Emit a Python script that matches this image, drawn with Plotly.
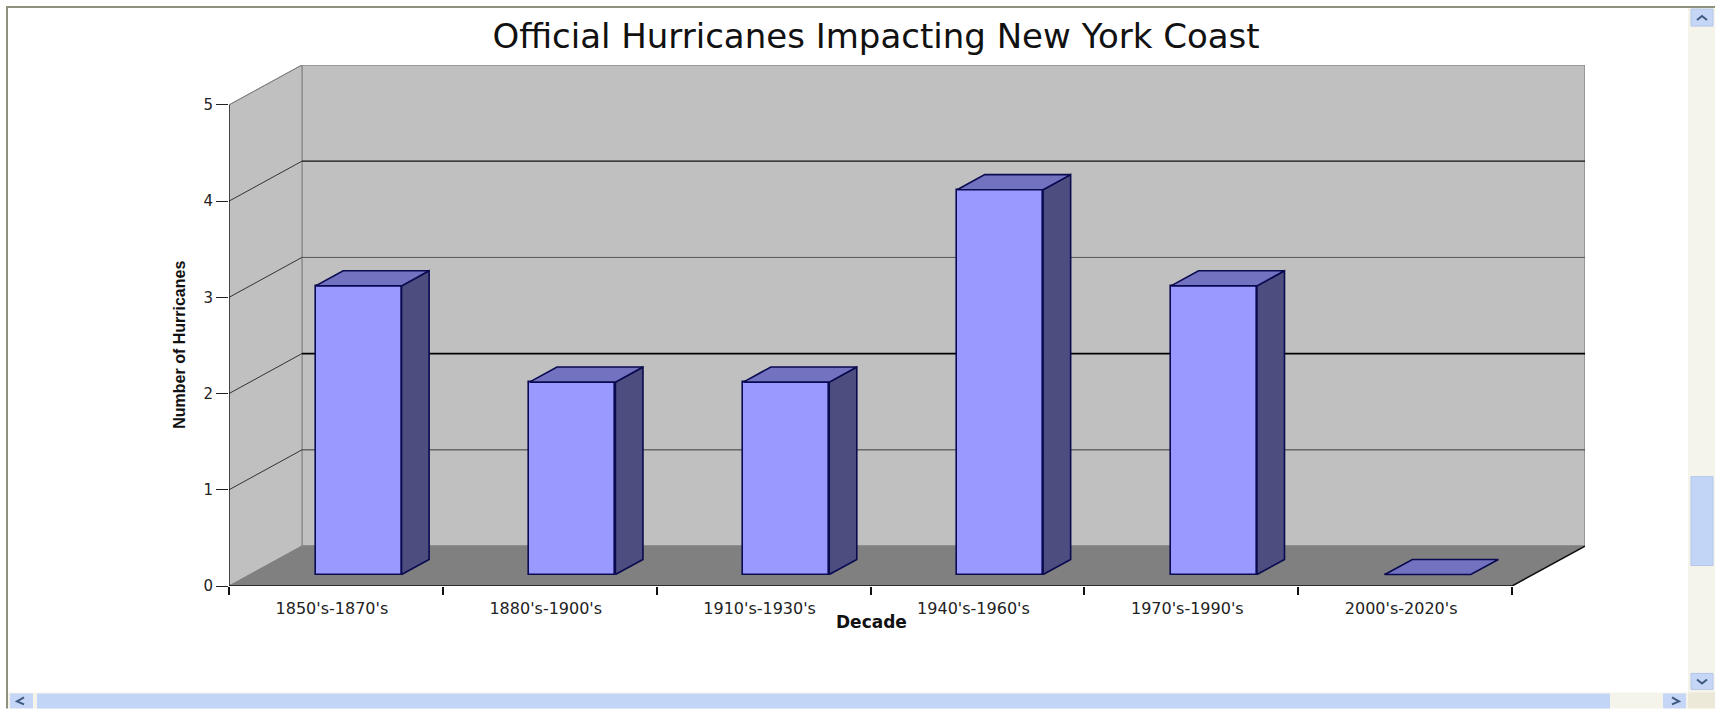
import plotly.graph_objects as go

# ---- data ----
decades = ["1850's-1870's", "1880's-1900's", "1910's-1930's", "1940's-1960's", "1970's-1990's", "2000's-2020's"]
hurricanes = [3, 2, 2, 4, 3, 0]
value_ticks = [0, 1, 2, 3, 4, 5]
title_text = "Official Hurricanes Impacting New York Coast"
x_title = "Decade"
y_title = "Number of Hurricanes"

# ---- oblique projection, in axis units ----
DEPTH_X = 0.341      # category units for the full chart depth
DEPTH_Y = 0.415      # value units for the full chart depth
BAR_WIDTH = 0.402
BAR_SHIFT = 0.008    # bars sit very slightly right of the category centre
BAR_NEAR = 0.287     # bar front, as a share of chart depth
BAR_FAR = 0.665      # bar back
N = len(decades)
VMAX = max(value_ticks)

def proj(cat, val, depth):
    return cat + depth * DEPTH_X, val + depth * DEPTH_Y

# ---- page geometry in pixels ----
W, H = 1715, 709
L, R, T, B = 229, 1585, 65, 586.5

def px(x):
    return (x - L) / (R - L)

def py(y):
    return (B - y) / (B - T)

FONT = "DejaVu Sans"
WALL, FLOOR = "#c0c0c0", "#808080"
FRONT, TOP, SIDE, EDGE = "#9999ff", "#7272c0", "#4d4d80", "#0a0a50"

fig = go.Figure()

def poly(points, fill, line=None, width=1):
    xs, ys = zip(*[proj(*p) for p in points])
    fig.add_trace(go.Scatter(
        x=list(xs), y=list(ys), mode="lines", fill="toself" if fill else None,
        fillcolor=fill, line=dict(color=line or "rgba(0,0,0,0)", width=width),
        hoverinfo="skip", showlegend=False, cliponaxis=False))

shapes = []
def wall(points, fill, line, width=1, layer="below"):
    coords = [proj(*p) for p in points]
    path = "M" + " L".join(f"{x},{y}" for x, y in coords) + (" Z" if fill else "")
    s = dict(type="path", path=path, xref="x", yref="y", layer=layer,
             line=dict(color=line, width=width))
    if fill:
        s["fillcolor"] = fill
    shapes.append(s)

# walls and floor
wall([(0, 0, 1), (N, 0, 1), (N, VMAX, 1), (0, VMAX, 1)], WALL, "#8a8a8a", 1.5)
wall([(0, 0, 0), (0, 0, 1), (0, VMAX, 1), (0, VMAX, 0)], WALL, "#8a8a8a", 1)
wall([(0, 0, 0), (N, 0, 0), (N, 0, 1), (0, 0, 1)], FLOOR, FLOOR, 1)
# gridlines
grid_style = {1: ("#3a3a3a", 1), 2: ("#000000", 1.6), 3: ("#555555", 1), 4: ("#111111", 1.2)}
for v in value_ticks[1:-1]:
    col, w = grid_style[v]
    wall([(0, v, 1), (N, v, 1)], None, col, w)
    wall([(0, v, 0), (0, v, 1)], None, "#333333", 1)
wall([(0, VMAX, 0), (0, VMAX, 1)], None, "#808080", 1)
wall([(N, 0, 0), (N, 0, 1)], None, "#111111", 1.5)

# bars: front faces on the axes, with side and top faces projected from the same values
bar_x = [proj(i + 0.5 + BAR_SHIFT, 0, BAR_NEAR)[0] for i in range(N)]
bar_base = proj(0, 0, BAR_NEAR)[1]
fig.add_trace(go.Bar(
    x=bar_x, y=hurricanes, base=bar_base, width=BAR_WIDTH,
    marker=dict(color=FRONT, line=dict(color=EDGE, width=1.6)),
    hoverinfo="skip", showlegend=False))

for i, v in enumerate(hurricanes):
    c0, c1 = i + 0.5 + BAR_SHIFT - BAR_WIDTH / 2, i + 0.5 + BAR_SHIFT + BAR_WIDTH / 2
    if v > 0:
        poly([(c1, 0, BAR_NEAR), (c1, 0, BAR_FAR), (c1, v, BAR_FAR), (c1, v, BAR_NEAR), (c1, 0, BAR_NEAR)],
             SIDE, EDGE, 1.6)
    poly([(c0, v, BAR_NEAR), (c1, v, BAR_NEAR), (c1, v, BAR_FAR), (c0, v, BAR_FAR), (c0, v, BAR_NEAR)],
         TOP, EDGE, 1.6)

# front axis lines
fig.add_trace(go.Scatter(x=[0, 0, N], y=[VMAX, 0, 0], mode="lines",
                         line=dict(color="#111111", width=1.3),
                         hoverinfo="skip", showlegend=False, cliponaxis=False))

# browser window furniture (frame and scrollbars)
def rect(x0, y0, x1, y1, fill, line=None):
    shapes.append(dict(type="rect", xref="paper", yref="paper",
                       x0=px(x0), x1=px(x1), y0=py(y0), y1=py(y1), layer="above",
                       fillcolor=fill, line=dict(color=line or fill, width=1 if line else 0)))

def chevron(pts):
    path = "M" + " L".join(f"{px(x)},{py(y)}" for x, y in pts)
    shapes.append(dict(type="path", path=path, xref="paper", yref="paper", layer="above",
                       line=dict(color="#3f5a80", width=2)))

rect(6, 6, 1715, 8, "#8f917f")
rect(6, 6, 8, 709, "#8f917f")
rect(1688, 8, 1715, 693, "#f5f4ea")
rect(8, 693, 1715, 709, "#f5f4ea")
rect(1691, 9, 1713, 26, "#c5d6f6", "#b4c6ea")
rect(1691, 477, 1713, 566, "#c3d5f7", "#b4c6ea")
rect(1691, 674, 1713, 690, "#c5d6f6", "#b4c6ea")
rect(37, 694, 1610, 709, "#c3d5f7")
rect(10, 694, 33, 709, "#c5d6f6")
rect(1663, 694, 1686, 709, "#c5d6f6")
rect(1688, 693, 1715, 709, "#ece9d8")
chevron([(1697, 20), (1702, 16), (1707, 20)])
chevron([(1697, 680), (1702, 684), (1707, 680)])
chevron([(24, 698), (17, 702), (24, 705)])
chevron([(1672, 698), (1679, 702), (1672, 705)])

annotations = [
    dict(x=px(180), y=py(345), xref="paper", yref="paper", text=f"<b>{y_title}</b>", textangle=-90,
         showarrow=False, font=dict(family="Liberation Sans Narrow, Liberation Sans", size=16, color="#111111"),
         xanchor="center", yanchor="middle"),
    dict(x=px(871), y=py(623), xref="paper", yref="paper", text=f"<b>{x_title}</b>",
         showarrow=False, font=dict(family=FONT, size=17, color="#111111"),
         xanchor="center", yanchor="middle"),
]

fig.update_layout(
    width=W, height=H, autosize=False,
    margin=dict(l=L, r=W - R, t=T, b=H - B, pad=0),
    paper_bgcolor="white", plot_bgcolor="white",
    showlegend=False, bargap=0,
    title=dict(text=title_text, x=876 / W, xanchor="center", y=1 - 36 / H, yanchor="middle",
               font=dict(family=FONT, size=34, color="#111111")),
    xaxis=dict(range=[0, N + DEPTH_X], showgrid=False, zeroline=False, showline=False,
               tickmode="array", tickvals=[i + 0.5 for i in range(N)], ticktext=decades,
               ticks="outside", ticklen=8, tickcolor="rgba(0,0,0,0)", ticklabelshift=-4,
               tickfont=dict(family=FONT, size=16, color="#222222"),
               minor=dict(tickmode="array", tickvals=list(range(N + 1)), ticks="outside",
                          ticklen=8, tickwidth=1.6, tickcolor="#111111", showgrid=False)),
    yaxis=dict(range=[0, VMAX + DEPTH_Y], showgrid=False, zeroline=False, showline=False,
               tickmode="array", tickvals=value_ticks, ticks="outside", ticklen=12,
               tickwidth=1, tickcolor="#222222",
               tickfont=dict(family=FONT, size=15, color="#222222")),
    shapes=shapes, annotations=annotations,
)

fig.write_html("out.html", config=dict(displayModeBar=False, displaylogo=False),
               post_script="document.body.style.margin='0';document.body.style.overflow='hidden';")
